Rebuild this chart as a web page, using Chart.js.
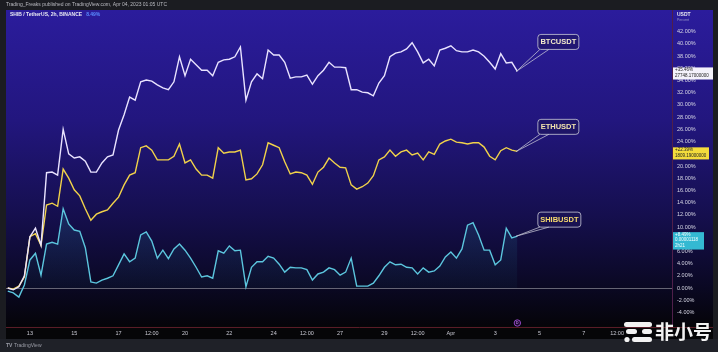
<!DOCTYPE html>
<html><head><meta charset="utf-8">
<script src="https://cdn.jsdelivr.net/npm/chart.js@4.4.0/dist/chart.umd.min.js"></script>
<style>html,body{margin:0;padding:0;background:#1b1c21;overflow:hidden}canvas{display:block}</style>
</head><body>
<canvas id="c" width="718" height="352"></canvas>
<script>
// time axis: day of month (March; 32 = Apr 1), one value every 6 hours
const startDay = 12;
const stepDays = 0.25;

const btcPct = [0.0,-0.3,0.2,2.0,8.4,9.8,7.0,18.9,19.0,18.5,
  26.0,22.0,21.3,21.5,20.8,19.0,19.0,20.5,21.5,21.8,
  25.9,28.4,31.3,30.8,33.8,34.1,33.9,33.3,32.8,32.5,
  33.8,37.9,34.8,37.5,36.6,35.7,35.7,34.8,37.0,37.4,
  37.5,37.9,39.5,30.8,33.8,35.1,34.3,39.0,38.2,38.2,
  37.0,34.4,34.6,34.6,34.9,33.4,34.8,35.7,37.0,36.2,
  36.2,36.1,32.5,32.5,32.1,32.0,31.5,33.6,34.8,37.9,
  38.5,38.7,39.2,40.2,38.7,36.9,37.5,36.4,39.0,39.3,
  39.7,38.9,38.7,38.7,39.0,38.7,38.0,37.0,35.9,38.4,
  36.9,37.0,35.5];

const ethPct = [0.0,-0.2,0.3,1.8,8.4,8.9,7.0,13.6,13.9,13.4,
  19.5,18.0,16.1,15.1,13.0,11.1,12.1,12.5,12.8,13.9,
  14.9,16.9,18.5,18.9,23.0,23.3,22.6,21.0,21.0,21.0,
  21.6,23.6,20.5,21.0,19.5,18.5,18.5,18.0,23.0,22.1,
  22.3,22.3,22.6,17.7,17.9,18.7,20.2,23.8,23.4,23.0,
  20.7,18.7,19.0,18.9,18.5,17.0,19.0,19.8,21.3,20.5,
  19.8,19.7,16.9,16.2,16.6,17.2,18.4,21.0,21.5,22.6,
  21.6,22.3,22.6,21.8,22.1,21.0,22.3,21.9,23.6,24.1,
  24.4,23.9,23.8,23.6,23.8,23.8,23.1,21.6,21.0,22.5,
  23.0,22.6,22.4];

const shibPct = [-0.5,-0.8,-1.5,0.5,4.6,5.7,2.1,7.2,7.5,7.2,
  13.0,10.5,9.5,9.3,6.6,1.0,0.8,1.3,1.6,2.0,
  3.8,5.6,4.3,4.9,8.7,9.2,7.7,4.9,6.2,4.8,
  6.4,7.2,6.2,4.9,3.4,1.8,2.0,1.6,6.1,5.7,
  6.9,6.1,6.2,0.2,3.4,4.3,4.3,5.2,4.9,3.9,
  2.6,3.4,3.3,3.3,3.0,1.3,2.3,2.6,3.3,3.0,
  2.1,2.6,4.9,0.3,0.3,0.3,0.8,2.0,3.4,4.3,
  3.8,3.9,3.4,3.3,2.3,3.3,2.6,2.8,3.6,5.1,
  5.9,4.9,6.4,10.3,10.7,8.7,6.2,6.2,3.8,4.6,
  9.8,8.2,8.5];

const seriesNames = ['BTCUSDT','ETHUSDT','SHIBUSDT'];
const lastBoxText = [['+35.46%','27748.17000000'],['+22.39%','1809.19000000'],['+8.49%','0.00001118','2h21']];
const xTickDays = [13,15,17,18.5,20,22,24,25.5,27,29,30.5,32,34,36,38,39.5];
const xTickLabels = ['13','15','17','12:00','20','22','24','12:00','27','29','12:00','Apr','3','5','7','12:00'];
const yTickValues = [-4,-2,0,2,4,6,8,10,12,14,16,18,20,22,24,26,28,30,32,34,36,38,40,42];
const headerTitle = 'SHIB / TetherUS, 2h, BINANCE';
const headerChange = '8.49%';
const publishedText = 'Trading_Freaks published on TradingView.com, Apr 04, 2023 01:05 UTC';

const toPoints = arr => arr.map((v,i) => ({x: startDay + i*stepDays, y: v}));
const FONT = '"Liberation Sans", Arial, sans-serif';

const colors = {
  btc: '#e9e3ff', eth: '#f1d24a', shib: '#5cc6de'
};

const bgPlugin = {
  id: 'bg',
  beforeDraw(chart) {
    const ctx = chart.ctx, W = chart.width, H = chart.height;
    ctx.save();
    ctx.fillStyle = '#1b1c21'; ctx.fillRect(0,0,W,H);
    const g = ctx.createLinearGradient(0,10,0,326);
    g.addColorStop(0,'#2b1c9c');
    g.addColorStop(0.35,'#22167e');
    g.addColorStop(0.65,'#150f4e');
    g.addColorStop(0.88,'#0a0822');
    g.addColorStop(1,'#050409');
    ctx.fillStyle = g; ctx.fillRect(6,10,707,316);
    ctx.fillStyle = '#060608'; ctx.fillRect(6,326,707,13);
    ctx.fillStyle = '#1f2128'; ctx.fillRect(0,339,W,13);
    // axis borders
    ctx.strokeStyle = '#4f1f4a'; ctx.lineWidth = 1;
    ctx.beginPath(); ctx.moveTo(672.5,10); ctx.lineTo(672.5,327); ctx.stroke();
    ctx.strokeStyle = '#5a1c28';
    ctx.beginPath(); ctx.moveTo(6,327.5); ctx.lineTo(713,327.5); ctx.stroke();
    // zero line
    const y0 = Math.round(chart.scales.y.getPixelForValue(0)) + 0.5;
    ctx.strokeStyle = 'rgba(150,150,162,0.65)';
    ctx.beginPath(); ctx.moveTo(6,y0); ctx.lineTo(672,y0); ctx.stroke();
    // header texts
    ctx.textBaseline = 'middle';
    ctx.font = '5px ' + FONT;
    ctx.fillStyle = '#b9bac0';
    ctx.fillText(publishedText, 6, 5);
    ctx.font = 'bold 5px ' + FONT;
    ctx.fillStyle = '#e8e8f2';
    ctx.fillText(headerTitle, 10, 15);
    const w = ctx.measureText(headerTitle).width;
    ctx.fillStyle = '#5a8cff';
    ctx.fillText(headerChange, 10 + w + 4, 15);
    // axis unit
    ctx.fillStyle = '#e6e6f0';
    ctx.font = 'bold 5px ' + FONT;
    ctx.fillText('USDT', 677, 15);
    ctx.fillStyle = '#9a98c8';
    ctx.font = '3.5px ' + FONT;
    ctx.fillText('Percent', 677, 20);
    // TradingView footer
    ctx.fillStyle = '#9a9ca6';
    ctx.font = 'bold 5px ' + FONT;
    ctx.fillText('TV', 6, 346);
    ctx.font = '5px ' + FONT;
    ctx.fillText('TradingView', 14, 346);
    ctx.restore();
  },
  afterDraw(chart) {
    const ctx = chart.ctx;
    const xs = chart.scales.x, ys = chart.scales.y;
    const lastX = startDay + (btcPct.length-1)*stepDays;
    const lasts = [btcPct[btcPct.length-1], ethPct[ethPct.length-1], shibPct[shibPct.length-1]];
    const boxFill = ['#f4f2fb','#f4dc3c','#34b9d2'];
    const boxText = ['#222','#222','#f4ffff'];
    const calloutDy = [-37,-32,-24];
    const labelCol = ['#f4ebcc','#f3e4ad','#f5d96e'];
    ctx.save();
    // price-axis value boxes
    lasts.forEach((v,k) => {
      const y = ys.getPixelForValue(v);
      const lines = lastBoxText[k];
      const h = lines.length*5.3 + 1.5;
      const bw = k===2 ? 31 : (k===1 ? 36 : 40);
      ctx.fillStyle = boxFill[k];
      ctx.fillRect(673, y-4, bw, h);
      ctx.fillStyle = boxText[k];
      ctx.font = '4.5px ' + FONT;
      ctx.textBaseline = 'middle';
      lines.forEach((t,j) => ctx.fillText(t, 675, y-1.2 + j*5.3));
    });
    // callout labels
    lasts.forEach((v,k) => {
      const tx = xs.getPixelForValue(lastX) - 1;
      const ty = ys.getPixelForValue(v);
      const bx = tx + 21.5, by = ty + calloutDy[k];
      const bw = k===2 ? 43 : 41, bh = 15;
      ctx.strokeStyle = 'rgba(200,200,215,0.8)';
      ctx.lineWidth = 1;
      ctx.fillStyle = 'rgba(30,22,90,0.55)';
      ctx.beginPath();
      ctx.roundRect(bx, by, bw, bh, 3);
      ctx.fill(); ctx.stroke();
      ctx.beginPath();
      ctx.moveTo(bx+2, by+bh);
      ctx.lineTo(tx, ty);
      ctx.lineTo(bx+11, by+bh);
      ctx.strokeStyle = 'rgba(200,200,215,0.75)';
      ctx.stroke();
      ctx.fillStyle = labelCol[k];
      ctx.font = 'bold 7.5px ' + FONT;
      ctx.textAlign = 'center';
      ctx.textBaseline = 'middle';
      ctx.fillText(seriesNames[k], bx + bw/2, by + bh/2 + 0.5);
      ctx.textAlign = 'left';
    });
    // event marker on the time axis
    const mx = xs.getPixelForValue(lastX);
    ctx.beginPath();
    ctx.arc(mx, 323, 3.2, 0, Math.PI*2);
    ctx.fillStyle = '#1c0b2c'; ctx.fill();
    ctx.strokeStyle = '#9347c4'; ctx.lineWidth = 1; ctx.stroke();
    ctx.fillStyle = '#b070e0'; ctx.font = 'bold 3.5px ' + FONT;
    ctx.textAlign = 'center'; ctx.textBaseline = 'middle';
    ctx.fillText('D', mx, 323.2);
    ctx.textAlign = 'left';
    // watermark
    ctx.fillStyle = '#f2f2f2';
    ctx.beginPath(); ctx.roundRect(624,322,28,5,2.5); ctx.fill();
    ctx.beginPath(); ctx.roundRect(626,329,11,5,2.5); ctx.fill();
    ctx.beginPath(); ctx.roundRect(642,329,10,5,2.5); ctx.fill();
    ctx.beginPath(); ctx.arc(627,339.5,2.6,0,Math.PI*2); ctx.fill();
    ctx.beginPath(); ctx.roundRect(632,337,20,5,2.5); ctx.fill();
    ctx.font = 'bold 19px "Noto Sans CJK SC", sans-serif';
    ctx.textBaseline = 'middle';
    ctx.fillText('非小号', 655, 332);
    ctx.restore();
  }
};

const chart = new Chart(document.getElementById('c'), {
  type: 'line',
  data: {
    datasets: [
      { label: seriesNames[0], data: toPoints(btcPct), borderColor: colors.btc, borderWidth: 1.4, pointRadius: 0, tension: 0, fill: false },
      { label: seriesNames[1], data: toPoints(ethPct), borderColor: colors.eth, borderWidth: 1.4, pointRadius: 0, tension: 0, fill: false },
      { label: seriesNames[2], data: toPoints(shibPct), borderColor: colors.shib, borderWidth: 1.4, pointRadius: 0, tension: 0,
        fill: 'origin',
        backgroundColor: (c) => {
          const a = c.chart.chartArea;
          if (!a) return 'rgba(40,140,170,0.15)';
          const g = c.chart.ctx.createLinearGradient(0, a.top + 180, 0, c.chart.scales.y.getPixelForValue(0));
          g.addColorStop(0, 'rgba(50,160,190,0.22)');
          g.addColorStop(1, 'rgba(30,90,120,0.08)');
          return g;
        } }
    ]
  },
  options: {
    responsive: false,
    animation: false,
    devicePixelRatio: 1,
    layout: { padding: { left: 6, top: 20, right: 0, bottom: 0 } },
    plugins: { legend: { display: false }, tooltip: { enabled: false } },
    scales: {
      x: {
        type: 'linear', position: 'bottom', min: 11.92, max: 41.98,
        afterFit(s) { s.height = 26; },
        afterBuildTicks(s) { s.ticks = xTickDays.map(v => ({ value: v })); },
        ticks: { callback: (v, i) => xTickLabels[i], autoSkip: false, maxRotation: 0, padding: 4,
                 color: '#c8c8d2', font: { size: 5.5, family: FONT } },
        grid: { display: false, drawTicks: false },
        border: { display: false }
      },
      y: {
        type: 'linear', position: 'right', min: -6.23, max: 43.93,
        afterFit(s) { s.width = 46; },
        afterBuildTicks(s) { s.ticks = yTickValues.map(v => ({ value: v })); },
        ticks: { callback: v => v.toFixed(2) + '%', autoSkip: false, padding: 5,
                 color: '#d6d6e4', font: { size: 5.5, family: FONT } },
        grid: { display: false, drawTicks: false },
        border: { display: false }
      }
    }
  },
  plugins: [bgPlugin]
});
</script>
</body></html>
